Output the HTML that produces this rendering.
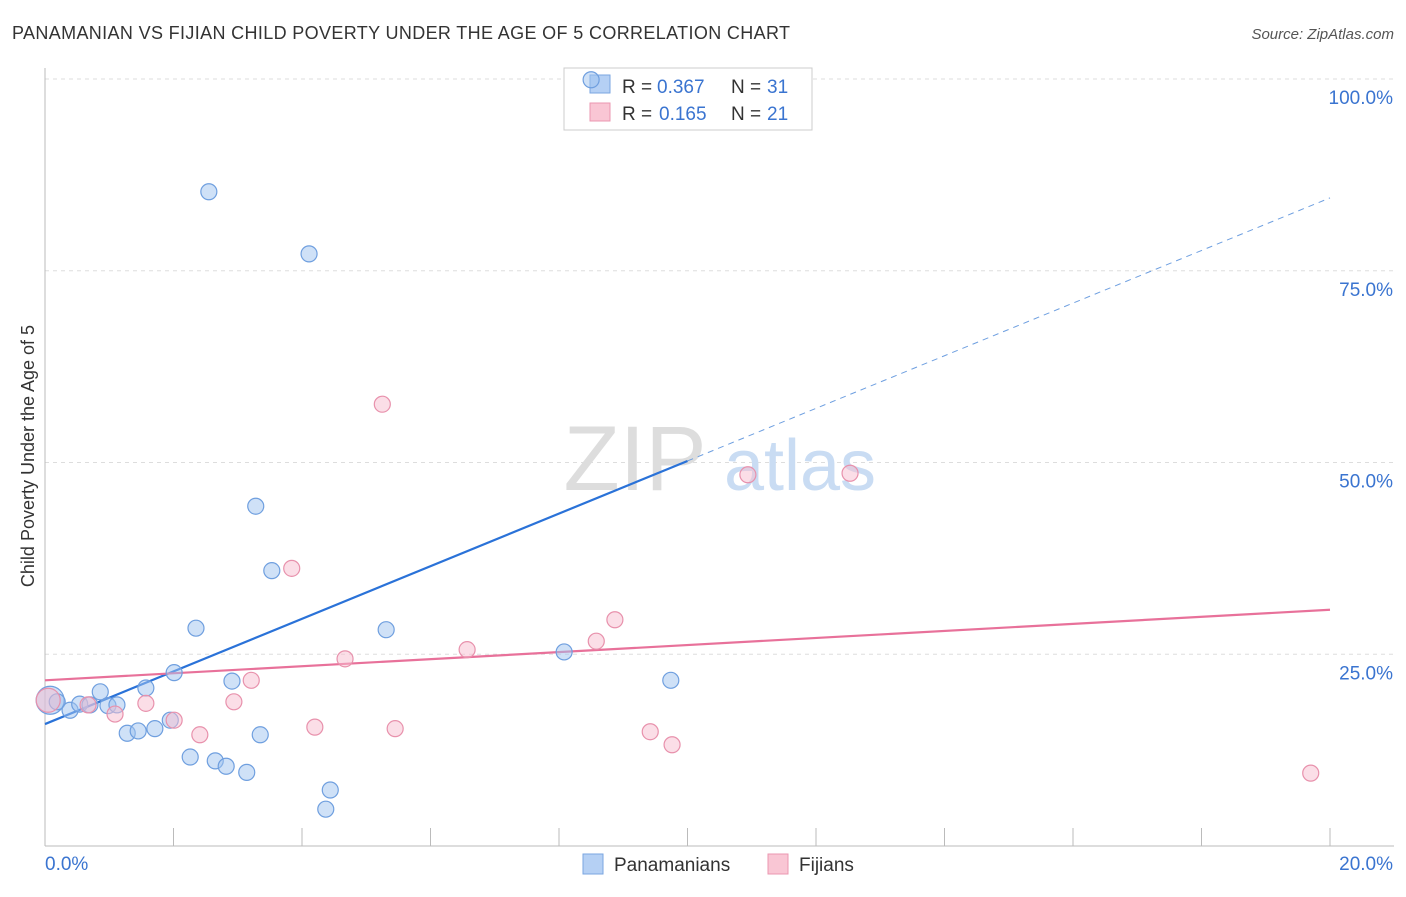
<!DOCTYPE html>
<html><head><meta charset="utf-8">
<style>
body{margin:0;background:#fff;font-family:"Liberation Sans",sans-serif;}
svg text{font-family:"Liberation Sans",sans-serif;}
</style></head>
<body>
<svg id="chart" width="1406" height="892" xmlns="http://www.w3.org/2000/svg">
<text x="12" y="39" font-size="18" fill="#333" textLength="778">PANAMANIAN VS FIJIAN CHILD POVERTY UNDER THE AGE OF 5 CORRELATION CHART</text>
<text x="1394" y="39" font-size="15" fill="#555" text-anchor="end" font-style="italic">Source: ZipAtlas.com</text>
<text x="34" y="456" font-size="18" fill="#333" text-anchor="middle" transform="rotate(-90 34 456)">Child Poverty Under the Age of 5</text>
<g id="grid"></g>
<g><text x="635" y="490" font-size="92" fill="#ddd" text-anchor="middle" font-family="Liberation Serif">ZIP</text><text x="800" y="490" font-size="72" fill="#c9dcf3" text-anchor="middle">atlas</text></g>
<g>
<rect x="564" y="68" width="248" height="62" fill="#fff" stroke="#ccc"/>
<rect x="590" y="75" width="20" height="18" fill="#b5d0f4" stroke="#7aa6e0"/>
<text x="622" y="93" font-size="19" fill="#333">R =</text>
<text x="657" y="93" font-size="19" fill="#3a74d0">0.367</text>
<text x="731" y="93" font-size="19" fill="#333">N =</text>
<text x="767" y="93" font-size="19" fill="#3a74d0">31</text>
<rect x="590" y="103" width="20" height="18" fill="#f9c6d4" stroke="#eb97b0"/>
<text x="622" y="120" font-size="19" fill="#333">R =</text>
<text x="659" y="120" font-size="19" fill="#3a74d0">0.165</text>
<text x="731" y="120" font-size="19" fill="#333">N =</text>
<text x="767" y="120" font-size="19" fill="#3a74d0">21</text>
</g>
<g id="axes"></g>
<g id="lines"></g>
<g id="pts"></g>
<g>
<rect x="583" y="854" width="20" height="20" fill="#b5d0f4" stroke="#7aa6e0"/>
<text x="614" y="871" font-size="19" fill="#333">Panamanians</text>
<rect x="768" y="854" width="20" height="20" fill="#f9c6d4" stroke="#eb97b0"/>
<text x="799" y="871" font-size="19" fill="#333">Fijians</text>
</g>
</svg>
<script>
const blueX=[0.08,0.19,0.39,0.54,0.70,0.86,0.98,1.12,1.28,1.45,1.57,1.71,1.95,2.01,2.26,2.35,2.55,2.65,2.82,2.91,3.14,3.28,3.35,3.53,4.11,4.37,4.44,5.31,8.08,8.50,9.74];
const blueY=[19.0,18.8,17.7,18.5,18.4,20.1,18.3,18.4,14.7,15.0,20.6,15.3,16.4,22.6,11.6,28.4,85.3,11.1,10.4,21.5,9.6,44.3,14.5,35.9,77.2,4.8,7.3,28.2,25.3,99.9,21.6];
const pinkX=[0.05,0.67,1.09,1.57,2.01,2.41,2.94,3.21,3.84,4.20,4.67,5.25,5.45,6.57,8.58,8.87,9.42,9.76,10.94,12.53,19.70];
const pinkY=[19.0,18.4,17.2,18.6,16.4,14.5,18.8,21.6,36.2,15.5,24.4,57.6,15.3,25.6,26.7,29.5,14.9,13.2,48.4,48.6,9.5];
const blueTrend=[15.9,84.5];
const pinkTrend=[21.6,30.8];
const yTicks=[25,50,75,100];
const yTickLabels=["25.0%","50.0%","75.0%","100.0%"];
const xTicks=[0,2,4,6,8,10,12,14,16,18,20];
const ns="http://www.w3.org/2000/svg";
const X=v=>45+v*64.25, Y=v=>846-v*7.67;
function mk(p,t,a){const e=document.createElementNS(ns,t);for(const k in a)e.setAttribute(k,a[k]);document.getElementById(p).appendChild(e);return e;}
yTicks.forEach((t,i)=>{
 const l=mk('grid','line',{x1:45,x2:1394,y1:Y(t),y2:Y(t),stroke:'#ddd','stroke-dasharray':'4,4'});
 
 
 const tx=mk('grid','text',{x:1393,y:Y(t)+25,'font-size':19,fill:'#3a74d0','text-anchor':'end'});
 tx.textContent=yTickLabels[i];
 
 
});
mk('axes','line',{x1:45,x2:45,y1:68,y2:846,stroke:'#bbb'});
mk('axes','line',{x1:45,x2:1394,y1:846,y2:846,stroke:'#bbb'});
xTicks.forEach(t=>{const l=mk('axes','line',{x1:X(t),x2:X(t),y1:828,y2:846,stroke:'#bbb'});
 
 });
let t0=mk('axes','text',{x:45,y:870,'font-size':19,fill:'#3a74d0'});t0.textContent="0.0%";
let t1=mk('axes','text',{x:1393,y:870,'font-size':19,fill:'#3a74d0','text-anchor':'end'});t1.textContent="20.0%";
const bm=blueTrend[0]+(blueTrend[1]-blueTrend[0])*0.5;
let bl=mk('lines','line',{x1:X(0),y1:Y(blueTrend[0]),x2:X(10),y2:Y(bm),stroke:'#2a72d8','stroke-width':2.2});


let bd=mk('lines','line',{x1:X(10),y1:Y(bm),x2:X(20),y2:Y(blueTrend[1]),stroke:'#6e9fe0','stroke-width':1,'stroke-dasharray':'6,5'});


let pl=mk('lines','line',{x1:X(0),y1:Y(pinkTrend[0]),x2:X(20),y2:Y(pinkTrend[1]),stroke:'#e8719a','stroke-width':2.2});


blueX.forEach((v,i)=>{const c=mk('pts','circle',{cx:X(v),cy:Y(blueY[i]),r:i==0?14:8,fill:'rgba(160,195,240,0.5)',stroke:'#6f9fdf','stroke-width':1.2});
 
 });
pinkX.forEach((v,i)=>{const c=mk('pts','circle',{cx:X(v),cy:Y(pinkY[i]),r:i==0?12:8,fill:'rgba(248,190,208,0.5)',stroke:'#e891ac','stroke-width':1.2});
 
 });
</script>
</body></html>
